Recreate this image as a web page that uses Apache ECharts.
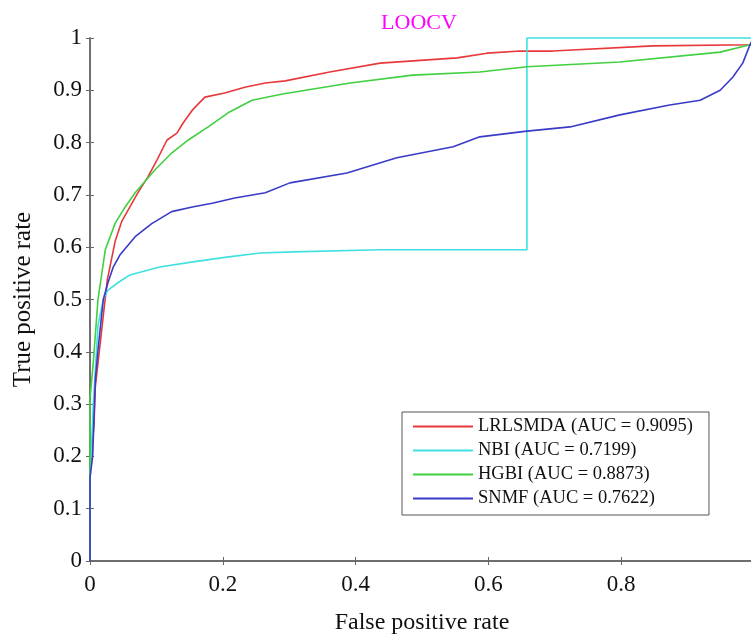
<!DOCTYPE html>
<html>
<head>
<meta charset="utf-8">
<script src="https://cdn.jsdelivr.net/npm/echarts@6/dist/echarts.min.js"></script>
<style>
  html, body { margin: 0; padding: 0; background: #fff; }
  #chart { width: 751px; height: 634px; }
</style>
</head>
<body>
<div id="chart"></div>
<script>
// ROC points [false positive rate, true positive rate]
const lrlsmda = [
  [0, 0], [0, 0.17], [0.006, 0.26], [0.008, 0.333], [0.026, 0.537], [0.038, 0.612],
  [0.048, 0.65], [0.072, 0.704], [0.087, 0.734], [0.101, 0.767], [0.116, 0.805],
  [0.131, 0.818], [0.14, 0.837], [0.154, 0.862], [0.173, 0.887], [0.203, 0.895],
  [0.233, 0.906], [0.264, 0.914], [0.294, 0.918], [0.361, 0.935], [0.437, 0.952],
  [0.553, 0.962], [0.598, 0.971], [0.648, 0.975], [0.697, 0.975], [0.848, 0.985],
  [0.994, 0.987], [1, 1]
]
const nbi = [
  [0, 0], [0, 0.15], [0.005, 0.3], [0.012, 0.45], [0.02, 0.5], [0.027, 0.518],
  [0.042, 0.532], [0.06, 0.547], [0.105, 0.562], [0.155, 0.572], [0.206, 0.581],
  [0.256, 0.589], [0.306, 0.591], [0.437, 0.595], [0.658, 0.595], [0.658, 1], [1, 1]
]
const hgbi = [
  [0, 0], [0, 0.31], [0.005, 0.38], [0.012, 0.5], [0.023, 0.595], [0.038, 0.646],
  [0.053, 0.677], [0.068, 0.704], [0.098, 0.748], [0.123, 0.78], [0.148, 0.805],
  [0.178, 0.83], [0.208, 0.857], [0.244, 0.881], [0.29, 0.893], [0.392, 0.914],
  [0.486, 0.929], [0.587, 0.935], [0.658, 0.945], [0.798, 0.954], [0.949, 0.973],
  [0.994, 0.987], [1, 1]
]
const snmf = [
  [0, 0], [0, 0.16], [0.004, 0.2], [0.008, 0.346], [0.012, 0.403], [0.02, 0.5],
  [0.027, 0.532], [0.035, 0.562], [0.045, 0.585], [0.068, 0.62], [0.093, 0.645],
  [0.123, 0.668], [0.154, 0.677], [0.184, 0.684], [0.218, 0.694], [0.264, 0.704],
  [0.301, 0.723], [0.387, 0.742], [0.462, 0.771], [0.547, 0.792], [0.587, 0.811],
  [0.658, 0.822], [0.723, 0.83], [0.798, 0.853], [0.873, 0.872], [0.919, 0.881],
  [0.949, 0.9], [0.968, 0.925], [0.983, 0.952], [0.994, 0.987], [1, 1]
]
const seriesNames = [
  'LRLSMDA (AUC = 0.9095)',
  'NBI (AUC = 0.7199)',
  'HGBI (AUC = 0.8873)',
  'SNMF (AUC = 0.7622)'
]
const seriesColors = ['#e8383c', '#40e0e0', '#40d040', '#3a3ac8']

const font = 'Liberation Serif'
const axisColor = '#666'

const chart = echarts.init(document.getElementById('chart'))

function frameAxis(pos, interval) {
  return {
    type: 'value',
    position: pos,
    min: 0,
    max: 1,
    interval: interval,
    axisLine: { show: true, lineStyle: { color: axisColor, width: 1.5 } },
    axisTick: { show: true, inside: true, length: 4, lineStyle: { color: axisColor } },
    axisLabel: { show: false },
    splitLine: { show: false }
  }
}

chart.setOption({
  backgroundColor: '#ffffff',
  animation: false,
  title: {
    text: 'LOOCV',
    left: 414,
    textAlign: 'center',
    top: 7,
    textStyle: { color: '#ff00ff', fontFamily: font, fontSize: 22, fontWeight: 'normal' }
  },
  grid: { left: 90, right: -3, top: 38, bottom: 73, outerBoundsMode: 'none', containLabel: false },
  legend: {
    orient: 'vertical',
    left: 402,
    top: 412,
    padding: [5, 16, 7, 11],
    itemWidth: 60,
    itemHeight: 2,
    itemGap: 5,
    icon: 'rect',
    backgroundColor: '#fff',
    borderColor: '#555',
    borderWidth: 1,
    textStyle: { fontFamily: font, fontSize: 18.5, color: '#111' },
    data: seriesNames
  },
  xAxis: [
    {
      type: 'value',
      min: 0,
      max: 1,
      interval: 0.2,
      name: 'False positive rate',
      nameLocation: 'middle',
      nameGap: 50,
      nameTextStyle: { fontFamily: font, fontSize: 24, color: '#111' },
      axisLine: { show: true, lineStyle: { color: axisColor, width: 1.5 } },
      axisTick: { show: true, inside: true, length: 4, lineStyle: { color: axisColor } },
      axisLabel: { fontFamily: font, fontSize: 23, color: '#111', margin: 12, showMaxLabel: false },
      splitLine: { show: false }
    },
    frameAxis('top', 0.2)
  ],
  yAxis: [
    {
      type: 'value',
      min: 0,
      max: 1,
      interval: 0.1,
      name: 'True positive rate',
      nameLocation: 'middle',
      nameGap: 54,
      nameTextStyle: { fontFamily: font, fontSize: 25, color: '#111' },
      axisLine: { show: true, lineStyle: { color: axisColor, width: 1.5 } },
      axisTick: { show: true, inside: true, length: 4, lineStyle: { color: axisColor } },
      axisLabel: { fontFamily: font, fontSize: 23, color: '#111', margin: 8 },
      splitLine: { show: false }
    },
    frameAxis('right', 0.1)
  ],
  series: [lrlsmda, nbi, hgbi, snmf].map(function (pts, i) {
    return {
      name: seriesNames[i],
      type: 'line',
      data: pts,
      symbol: 'none',
      clip: false,
      lineStyle: { color: seriesColors[i], width: 1.6 },
      itemStyle: { color: seriesColors[i] }
    }
  })
})
</script>
</body>
</html>
